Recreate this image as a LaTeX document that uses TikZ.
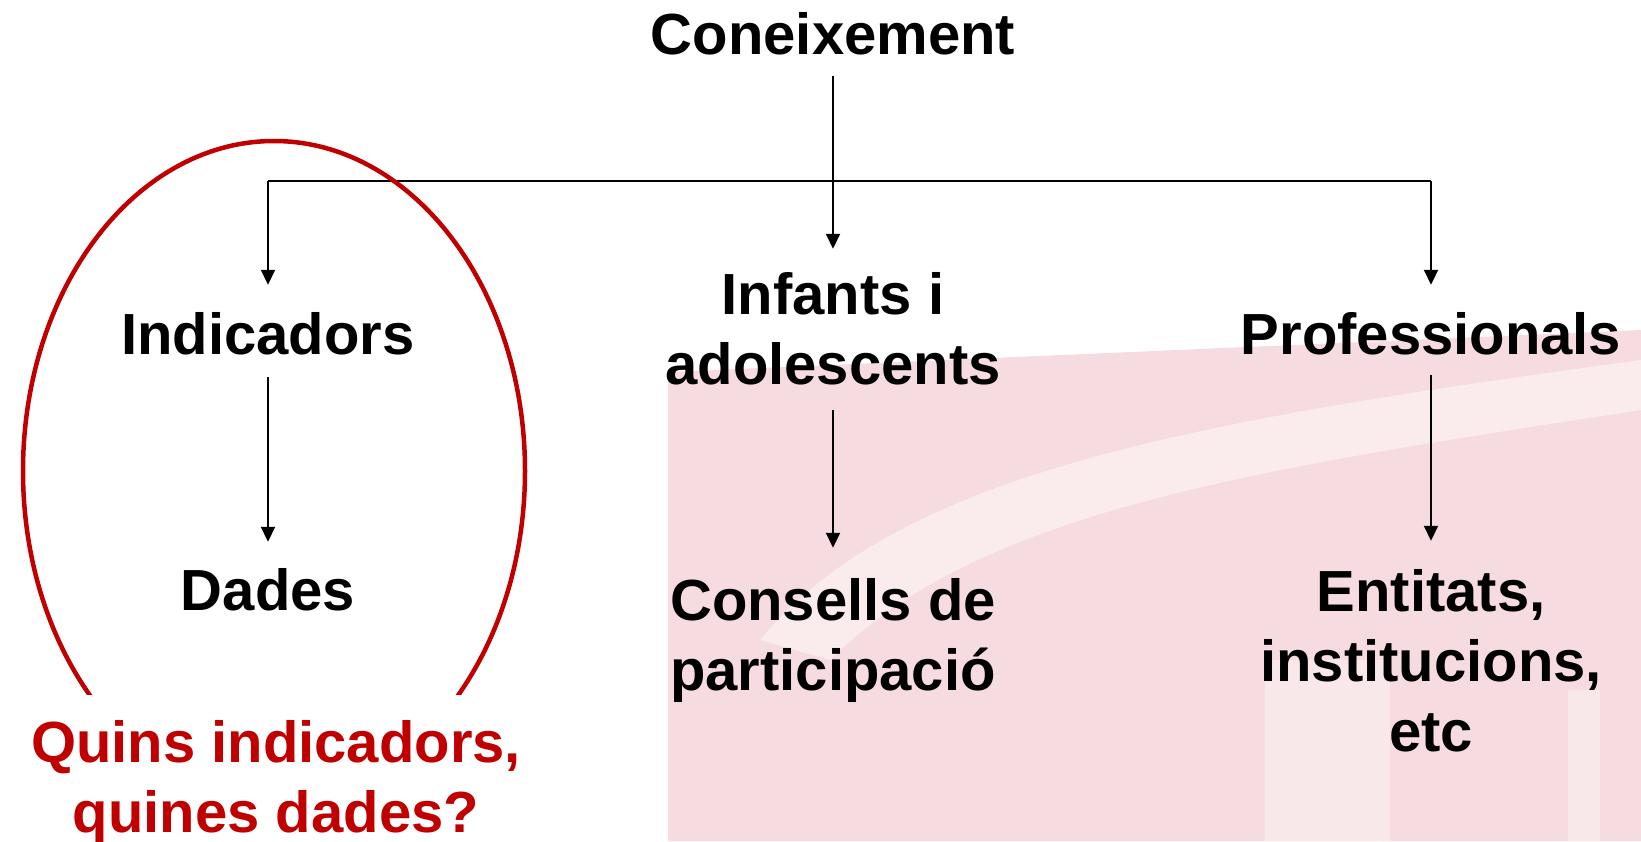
\documentclass[tikz,border=0pt]{standalone}
\usepackage{fontspec}
\setmainfont{Liberation Sans}
\usetikzlibrary{arrows.meta,calc}
\definecolor{dred}{HTML}{C00000}
\definecolor{wpink}{HTML}{F6DCE0}
\begin{document}
\begin{tikzpicture}[x=1pt,y=-1pt,
  lbl/.style={font=\bfseries\fontsize{58}{70}\selectfont, align=center, inner sep=0pt, anchor=base},
  conn/.style={line width=2pt},
  arr/.style={conn, -{Triangle[width=14pt,length=15pt]}}]
\useasboundingbox (0,0) rectangle (1641,841);
% faint background watermark
\fill[wpink] (668,372) -- (1641,330) -- (1641,841) -- (668,841) -- cycle;
\fill[white, opacity=0.45] (760,640) .. controls (900,470) and (1200,420) .. (1641,360) -- (1641,410) .. controls (1250,470) and (980,510) .. (830,660) -- cycle;
\fill[white, opacity=0.35] (1265,660) rectangle (1390,841);
\fill[white, opacity=0.35] (1568,690) rectangle (1600,841);
% labels (base = baseline of the last line)
\node[lbl] (con) at (833,54) {Coneixement};
\node[lbl] (ind) at (268,354) {Indicadors};
\node[lbl] (inf) at (833,384) {Infants i\\adolescents};
\node[lbl] (pro) at (1431,354) {Professionals};
\node[lbl] (dad) at (268,610) {Dades};
\node[lbl] (cons) at (833,690) {Consells de\\participació};
\node[lbl] (ent) at (1431,751) {Entitats,\\institucions,\\etc};
% connectors
\coordinate (jl) at (ind.north |- 0,181);
\coordinate (jr) at (pro.north |- 0,181);
\draw[conn] (jl) -- (jr);
\draw[arr, shorten <=21pt, shorten >=23pt] (con.south) -- (inf.north);
\draw[arr, shorten >=27pt] (jl) -- (ind.north);
\draw[arr, shorten >=27pt] (jr) -- (pro.north);
\draw[arr, shorten <=22pt, shorten >=26pt] (ind.south) -- (dad.north);
\draw[arr, shorten <=25pt, shorten >=30pt] (inf.south) -- (cons.north);
\draw[arr, shorten <=20pt, shorten >=28pt] (pro.south) -- (ent.north);
% red ellipse and question
\draw[dred, line width=4.5pt] (274,471) ellipse [x radius=251pt, y radius=330pt];
\fill[white] (9,695) rectangle (546,841);
\node[lbl, text=dred] (q) at (276,832) {Quins indicadors,\\quines dades?};
\end{tikzpicture}
\end{document}
